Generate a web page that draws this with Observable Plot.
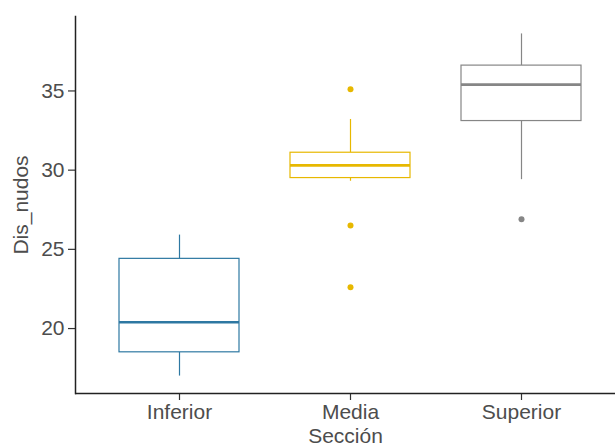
<!DOCTYPE html>
<html>
<head>
<meta charset="utf-8">
<script src="https://cdn.jsdelivr.net/npm/d3@7"></script>
<script src="https://cdn.jsdelivr.net/npm/@observablehq/plot@0.6"></script>
<style>
  html, body { margin: 0; padding: 0; background: #fff; overflow: hidden; }
  #chart svg { display: block; }
</style>
</head>
<body>
<div id="chart"></div>
<script>
// Distancia entre nudos por sección del tallo: resumen de cada caja
const secciones = ["Inferior", "Media", "Superior"];
const colores = ["#2E78A2", "#E7B800", "#868686"];
const bigoteInf = [17.0, 29.3, 29.4];
const cuartil1 = [18.5, 29.5, 33.1];
const medianas = [20.4, 30.3, 35.4];
const cuartil3 = [24.4, 31.1, 36.6];
const bigoteSup = [25.9, 33.2, 38.6];

// Valores atípicos
const atipicoSeccion = ["Media", "Media", "Media", "Superior"];
const atipicoValor = [35.1, 26.5, 22.6, 26.9];

const ticksY = [20, 25, 30, 35];
const dominioY = [15.9, 39.7];

const cajas = secciones.map((s, i) => ({
  seccion: s, min: bigoteInf[i], q1: cuartil1[i], med: medianas[i], q3: cuartil3[i], max: bigoteSup[i]
}));
const atipicos = atipicoSeccion.map((s, i) => ({seccion: s, valor: atipicoValor[i]}));

const font = "'Liberation Sans', Arial, sans-serif";

const chart = Plot.plot({
  width: 615,
  height: 447,
  marginLeft: 75,
  marginRight: 0,
  marginTop: 16,
  marginBottom: 54,
  style: {fontFamily: font, fontSize: "21px", color: "#000", background: "#fff"},
  // the panel continues past the right edge of the figure
  x: {domain: secciones, range: [75, 624], paddingInner: 0.3, paddingOuter: 0.25},
  y: {domain: dominioY},
  color: {domain: secciones, range: colores},
  marks: [
    Plot.axisY({ticks: ticksY, tickSize: 7, tickPadding: 4, stroke: "#333", strokeWidth: 1.2,
      fill: "#4D4D4D", fontSize: 21, label: "Dis_nudos", labelAnchor: "center", labelArrow: "none",
      labelOffset: 62}),
    Plot.axisX({tickSize: 7, tickPadding: 4, stroke: "#333", strokeWidth: 1.2,
      fill: "#4D4D4D", fontSize: 21, label: "Sección", labelAnchor: "center", labelArrow: "none",
      labelOffset: 49}),
    // bigotes
    Plot.ruleX(cajas, {x: "seccion", y1: "q3", y2: "max", stroke: "seccion", strokeWidth: 1.2}),
    Plot.ruleX(cajas, {x: "seccion", y1: "min", y2: "q1", stroke: "seccion", strokeWidth: 1.2}),
    // cajas
    Plot.barY(cajas, {x: "seccion", y1: "q1", y2: "q3", fill: "white", stroke: "seccion", strokeWidth: 1.2}),
    // medianas
    Plot.tickY(cajas, {x: "seccion", y: "med", stroke: "seccion", strokeWidth: 2.6}),
    // atípicos
    Plot.dot(atipicos, {x: "seccion", y: "valor", fill: "seccion", r: 3}),
    // ejes
    Plot.frame({anchor: "left", stroke: "#222", strokeWidth: 1.5}),
    Plot.ruleY([dominioY[0]], {stroke: "#222", strokeWidth: 1.5})
  ]
});

document.getElementById("chart").appendChild(chart);
</script>
</body>
</html>
